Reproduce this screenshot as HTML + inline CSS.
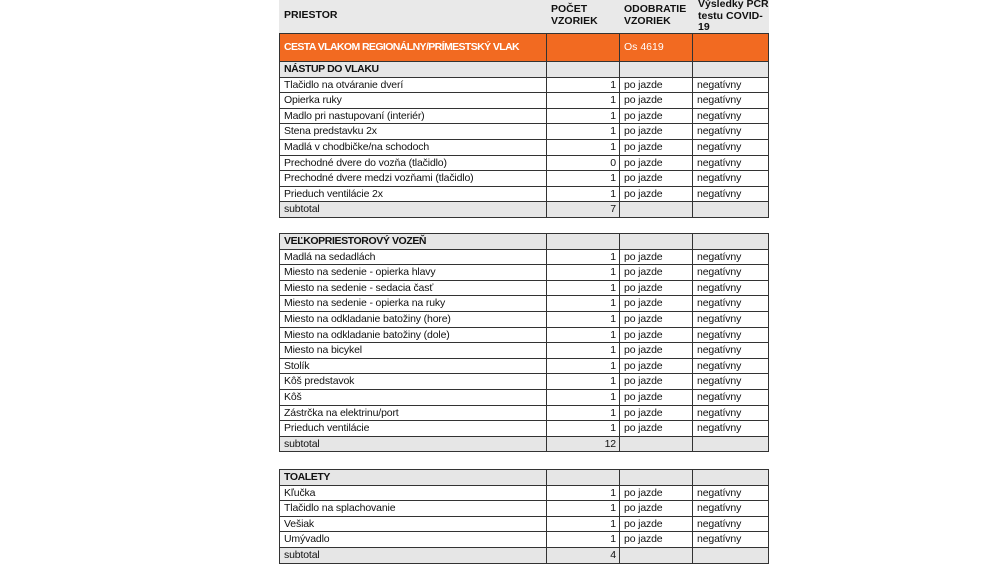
<!DOCTYPE html>
<html><head><meta charset="utf-8"><style>
*{margin:0;padding:0;box-sizing:border-box}
body{width:991px;height:558px;background:#fff;position:relative;overflow:hidden;font-family:"Liberation Sans",Arial,sans-serif;font-size:10.5px;color:#111}
.hdr{position:absolute;left:279px;top:0;width:490px;height:33px;background:#e9e9e9}
.hdr div{position:absolute;font-weight:bold;font-size:10.5px;line-height:11.5px}
.t{position:absolute;left:279px;width:490px;border-left:1px solid #333;border-right:1px solid #333;border-top:1px solid #333}
.r{display:flex;height:15.6px;border-bottom:1px solid #333;line-height:14.6px;white-space:nowrap;overflow:hidden;letter-spacing:-0.15px}
.r div{height:100%;border-right:1px solid #333;padding-left:4px}
.r div:last-child{border-right:none}
.c1{width:267px}.c2{width:73px;text-align:right;padding-right:3px!important}.c3{width:73px}.c4{flex:1}
.g{background:#e6e6e6}
.o{background:#f26a21;color:#fff;font-weight:bold;height:28px;line-height:27px;letter-spacing:-0.6px}
.b{font-weight:bold;letter-spacing:-0.4px}
</style></head><body>
<div class="hdr">
<div style="left:5px;top:10px">PRIESTOR</div>
<div style="left:272px;top:4px">POČET<br>VZORIEK</div>
<div style="left:345px;top:4px">ODOBRATIE<br>VZORIEK</div>
<div style="left:419px;top:-1px;line-height:11.5px">Výsledky PCR<br>testu COVID-<br>19</div>
</div>
<div class="t" style="top:33px">
<div class="r o"><div class="c1">CESTA VLAKOM REGIONÁLNY/PRÍMESTSKÝ VLAK</div><div class="c2"></div><div class="c3" style="font-weight:normal;letter-spacing:0">Os 4619</div><div class="c4"></div></div>
<div class="r g b"><div class="c1">NÁSTUP DO VLAKU</div><div class="c2"></div><div class="c3"></div><div class="c4"></div></div>
<div class="r"><div class="c1">Tlačidlo na otváranie dverí</div><div class="c2">1</div><div class="c3">po jazde</div><div class="c4">negatívny</div></div>
<div class="r"><div class="c1">Opierka ruky</div><div class="c2">1</div><div class="c3">po jazde</div><div class="c4">negatívny</div></div>
<div class="r"><div class="c1">Madlo pri nastupovaní (interiér)</div><div class="c2">1</div><div class="c3">po jazde</div><div class="c4">negatívny</div></div>
<div class="r"><div class="c1">Stena predstavku 2x</div><div class="c2">1</div><div class="c3">po jazde</div><div class="c4">negatívny</div></div>
<div class="r"><div class="c1">Madlá v chodbičke/na schodoch</div><div class="c2">1</div><div class="c3">po jazde</div><div class="c4">negatívny</div></div>
<div class="r"><div class="c1">Prechodné dvere do vozňa (tlačidlo)</div><div class="c2">0</div><div class="c3">po jazde</div><div class="c4">negatívny</div></div>
<div class="r"><div class="c1">Prechodné dvere medzi vozňami (tlačidlo)</div><div class="c2">1</div><div class="c3">po jazde</div><div class="c4">negatívny</div></div>
<div class="r"><div class="c1">Prieduch ventilácie 2x</div><div class="c2">1</div><div class="c3">po jazde</div><div class="c4">negatívny</div></div>
<div class="r g"><div class="c1">subtotal</div><div class="c2">7</div><div class="c3"></div><div class="c4"></div></div>
</div>
<div class="t" style="top:233px">
<div class="r g b"><div class="c1">VEĽKOPRIESTOROVÝ VOZEŇ</div><div class="c2"></div><div class="c3"></div><div class="c4"></div></div>
<div class="r"><div class="c1">Madlá na sedadlách</div><div class="c2">1</div><div class="c3">po jazde</div><div class="c4">negatívny</div></div>
<div class="r"><div class="c1">Miesto na sedenie - opierka hlavy</div><div class="c2">1</div><div class="c3">po jazde</div><div class="c4">negatívny</div></div>
<div class="r"><div class="c1">Miesto na sedenie - sedacia časť</div><div class="c2">1</div><div class="c3">po jazde</div><div class="c4">negatívny</div></div>
<div class="r"><div class="c1">Miesto na sedenie - opierka na ruky</div><div class="c2">1</div><div class="c3">po jazde</div><div class="c4">negatívny</div></div>
<div class="r"><div class="c1">Miesto na odkladanie batožiny (hore)</div><div class="c2">1</div><div class="c3">po jazde</div><div class="c4">negatívny</div></div>
<div class="r"><div class="c1">Miesto na odkladanie batožiny (dole)</div><div class="c2">1</div><div class="c3">po jazde</div><div class="c4">negatívny</div></div>
<div class="r"><div class="c1">Miesto na bicykel</div><div class="c2">1</div><div class="c3">po jazde</div><div class="c4">negatívny</div></div>
<div class="r"><div class="c1">Stolík</div><div class="c2">1</div><div class="c3">po jazde</div><div class="c4">negatívny</div></div>
<div class="r"><div class="c1">Kôš predstavok</div><div class="c2">1</div><div class="c3">po jazde</div><div class="c4">negatívny</div></div>
<div class="r"><div class="c1">Kôš</div><div class="c2">1</div><div class="c3">po jazde</div><div class="c4">negatívny</div></div>
<div class="r"><div class="c1">Zástrčka na elektrinu/port</div><div class="c2">1</div><div class="c3">po jazde</div><div class="c4">negatívny</div></div>
<div class="r"><div class="c1">Prieduch ventilácie</div><div class="c2">1</div><div class="c3">po jazde</div><div class="c4">negatívny</div></div>
<div class="r g"><div class="c1">subtotal</div><div class="c2">12</div><div class="c3"></div><div class="c4"></div></div>
</div>
<div class="t" style="top:469px">
<div class="r g b"><div class="c1">TOALETY</div><div class="c2"></div><div class="c3"></div><div class="c4"></div></div>
<div class="r"><div class="c1">Kľučka</div><div class="c2">1</div><div class="c3">po jazde</div><div class="c4">negatívny</div></div>
<div class="r"><div class="c1">Tlačidlo na splachovanie</div><div class="c2">1</div><div class="c3">po jazde</div><div class="c4">negatívny</div></div>
<div class="r"><div class="c1">Vešiak</div><div class="c2">1</div><div class="c3">po jazde</div><div class="c4">negatívny</div></div>
<div class="r"><div class="c1">Umývadlo</div><div class="c2">1</div><div class="c3">po jazde</div><div class="c4">negatívny</div></div>
<div class="r g"><div class="c1">subtotal</div><div class="c2">4</div><div class="c3"></div><div class="c4"></div></div>
</div>
</body></html>
